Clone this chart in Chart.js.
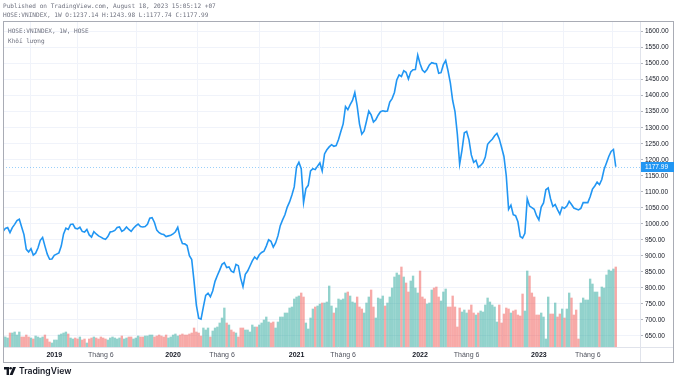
<!DOCTYPE html>
<html><head><meta charset="utf-8">
<script src="https://cdn.jsdelivr.net/npm/chart.js@4.4.1/dist/chart.umd.min.js"></script>
<style>
html,body{margin:0;padding:0;background:#fff;}
#wrap{position:relative;width:678px;height:381px;overflow:hidden;background:#fff;}
canvas{position:absolute;left:0;top:0;}
.t{position:absolute;font-family:"DejaVu Sans Mono",monospace;font-size:6.1px;color:#707380;white-space:pre;line-height:7px;}
#logo{position:absolute;left:4px;top:366px;display:flex;align-items:center;font-family:Inter,"Liberation Sans",sans-serif;font-weight:600;font-size:8.6px;color:#131722;}
#logo svg{margin-right:3px;}
</style></head><body>
<div id="wrap">
<canvas id="c" width="678" height="381"></canvas>
<div class="t" style="left:3px;top:2px">Published on TradingView.com, August 18, 2023 15:05:12 +07</div>
<div class="t" style="left:3px;top:11px">HOSE:VNINDEX, 1W O:1237.14 H:1243.98 L:1177.74 C:1177.99</div>
<div class="t" style="left:8px;top:27px">HOSE:VNINDEX, 1W, HOSE</div>
<div class="t" style="left:8px;top:37px">Khối lượng</div>
<div id="logo"><svg width="12" height="8" viewBox="0 0 12 8"><path d="M0 0h5v8H2.6V2.4H0z" fill="#131722"/><circle cx="6.6" cy="1.3" r="1.3" fill="#131722"/><path d="M9 0h3L8.6 8H5.6z" fill="#131722"/></svg><span>TradingView</span></div>
</div>
<script>
// Weekly closes, HOSE:VNINDEX (approx. late Aug 2018 .. 18 Aug 2023)
const closes = [
 976,985,988,972,988,998,1010,1014,990,966,
 920,912,922,902,908,924,948,957,930,905,
 889,890,901,905,909,930,968,986,982,998,
 999,986,984,989,976,974,982,965,958,975,
 968,962,958,954,951,960,974,976,979,988,
 990,976,981,990,982,976,986,993,999,991,
 990,991,998,1017,1019,1004,980,972,968,966,
 960,962,964,968,975,989,958,938,937,932,
 900,888,820,745,705,702,740,776,783,772,
 790,820,838,855,873,878,863,865,852,848,
 873,869,830,803,842,852,868,884,896,889,
 903,910,914,930,950,945,927,940,962,994,
 1012,1028,1052,1068,1090,1115,1178,1192,1172,1066,
 1110,1120,1165,1172,1169,1180,1190,1165,1218,1231,
 1240,1247,1242,1244,1263,1288,1312,1366,1356,1372,
 1385,1410,1368,1312,1280,1290,1320,1352,1340,1318,
 1325,1339,1350,1353,1351,1352,1380,1391,1410,1449,
 1465,1460,1478,1473,1452,1474,1481,1482,1527,1500,
 1480,1473,1482,1496,1503,1501,1500,1470,1472,1497,
 1510,1478,1440,1385,1350,1280,1186,1230,1284,1288,
 1262,1215,1192,1198,1176,1182,1190,1208,1248,1257,
 1264,1275,1282,1265,1238,1210,1150,1045,1058,1028,
 1025,1006,960,955,970,1078,1055,1050,1045,1025,
 1012,1052,1065,1106,1112,1078,1054,1060,1044,1030,
 1052,1048,1055,1070,1060,1049,1046,1043,1048,1066,
 1066,1066,1084,1108,1118,1130,1122,1138,1170,1190,
 1210,1226,1232,1177.99
];
// Weekly volume (relative units)
const volumes = [
 11,10,9,14,14,15,12,15,10,10,
 12,10,9,8,11,10,9,10,12,8,
 5,4,7,7,12,13,14,15,13,9,
 8,9,8,10,7,8,4,8,9,10,
 9,8,10,9,8,7,9,10,9,8,
 9,11,8,9,10,10,8,9,11,10,
 10,11,11,12,12,10,11,12,11,10,
 12,9,10,12,13,11,12,13,12,12,
 13,14,19,15,14,11,19,17,19,10,
 16,19,20,24,29,39,24,22,17,15,
 14,10,19,19,17,17,15,22,20,20,
 22,24,27,30,25,24,25,19,25,30,
 30,34,34,39,40,48,50,51,54,50,
 24,18,29,38,40,41,43,44,44,45,
 61,41,34,39,48,47,48,54,55,51,
 45,44,50,40,38,34,44,50,57,40,
 29,49,48,51,41,44,50,59,70,74,
 72,80,70,64,55,66,71,59,54,76,
 50,48,43,44,57,59,60,50,46,55,
 58,40,40,51,40,20,39,35,37,34,
 37,42,34,32,34,36,35,42,49,45,
 42,40,25,42,24,33,39,38,34,36,
 37,32,31,53,36,76,71,54,50,32,
 32,34,30,8,50,33,33,44,30,33,
 38,29,38,54,49,32,37,8,44,49,
 47,47,68,63,55,55,50,60,59,72,
 77,76,78,80
];
// Time-axis ticks: week index and label
const tickWeeks  = [22, 42, 73, 94, 126, 146, 179, 199, 230, 251];
const tickLabels = ['2019','Tháng 6','2020','Tháng 6','2021','Tháng 6','2022','Tháng 6','2023','Tháng 6'];
const lastClose = closes[closes.length-1];

const UP = 'rgba(38,166,154,0.5)', DOWN = 'rgba(239,83,80,0.5)';
const barColors = volumes.map((v,i)=> (i===0 || closes[i] >= closes[i-1]) ? UP : DOWN);

const framePlugin = {
  id:'frame',
  beforeDatasetsDraw(chart){
    const {ctx, chartArea:a, scales:{y}} = chart;
    const py = Math.round(y.getPixelForValue(lastClose)) + 0.5;
    ctx.save();
    ctx.strokeStyle = 'rgba(33,150,243,0.45)';
    ctx.setLineDash([1,2]);
    ctx.lineWidth = 1;
    ctx.beginPath(); ctx.moveTo(a.left, py); ctx.lineTo(a.right, py); ctx.stroke();
    ctx.restore();
  },
  afterDraw(chart){
    const {ctx, chartArea:a, scales:{y}} = chart;
    ctx.save();
    ctx.lineWidth = 1;
    ctx.strokeStyle = '#e0e3eb';
    ctx.beginPath();
    ctx.moveTo(a.right + 0.5, 21); ctx.lineTo(a.right + 0.5, 363);
    ctx.moveTo(3, a.bottom + 0.5); ctx.lineTo(674, a.bottom + 0.5);
    ctx.stroke();
    ctx.strokeStyle = '#a9acb5';
    ctx.strokeRect(3.5, 21.5, 670, 341);
    const py = Math.round(y.getPixelForValue(lastClose));
    ctx.fillStyle = '#2196f3';
    ctx.fillRect(a.right + 1, py - 5, 33, 10);
    ctx.fillStyle = '#ffffff';
    ctx.font = '6.5px "Liberation Sans", Arial, sans-serif';
    ctx.textBaseline = 'middle';
    ctx.fillText(lastClose.toFixed(2), a.right + 5, py + 0.5);
    ctx.restore();
  }
};

new Chart(document.getElementById('c'), {
  data: {
    datasets: [
      { type:'line', label:'VNINDEX', data: closes.map((v,i)=>({x:i, y:v})),
        borderColor:'#2196f3', borderWidth:1.6, pointRadius:0, tension:0, yAxisID:'y', order:0 },
      { type:'bar', label:'Khối lượng', data: volumes.map((v,i)=>({x:i, y:v})),
        backgroundColor: barColors, barThickness:1.7, yAxisID:'yv', order:1 }
    ]
  },
  options: {
    responsive:false, animation:false,
    layout:{ padding:{ left:3, top:21, right:0, bottom:18 } },
    plugins:{ legend:{display:false}, tooltip:{enabled:false} },
    scales:{
      x:{ type:'linear', min:0, max:273.4, offset:false,
        afterBuildTicks: s => { s.ticks = tickWeeks.map(v=>({value:v})); },
        afterFit: s => { s.height = 16; },
        grid:{ color:'#f0f3fa', drawTicks:false },
        border:{ display:false },
        ticks:{ autoSkip:false, maxRotation:0, padding:4,
          callback:(v,i)=> tickLabels[i],
          color: c => /^\d{4}$/.test(tickLabels[c.index]) ? '#131722' : '#50535e',
          font: c => ({ family:'"Liberation Sans", Arial, sans-serif', size:7,
                        weight: /^\d{4}$/.test(tickLabels[c.index]) ? 'bold' : 'normal' }) } },
      y:{ type:'linear', position:'right', min:614.8, max:1633.4,
        afterFit: s => { s.width = 38; },
        grid:{ color:'#f0f3fa', tickLength:3, tickColor:'#b2b5be' },
        border:{ display:false },
        ticks:{ stepSize:50, includeBounds:false, padding:2, color:'#131722',
          callback: v => Number(v).toFixed(2),
          font:{ family:'"Liberation Sans", Arial, sans-serif', size:6.5 } } },
      yv:{ type:'linear', display:false, min:0, max:326 }
    }
  },
  plugins:[framePlugin]
});
</script>
</body></html>
